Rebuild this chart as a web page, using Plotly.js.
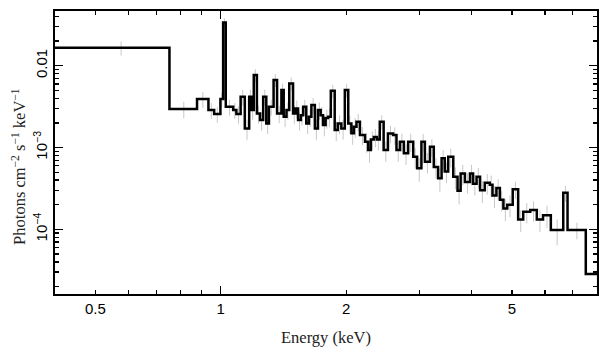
<!DOCTYPE html>
<html>
<head>
<meta charset="utf-8">
<script src="https://cdn.plot.ly/plotly-3.0.1.min.js"></script>
<style>html,body{margin:0;padding:0;background:#fff;}#chart{width:609px;height:357px;}</style>
</head>
<body>
<div id="chart"></div>
<script>
// Bin edges (keV) of the spectrum histogram
var binEdges = [0.38, 0.753, 0.877, 0.934, 0.964, 0.998, 1.013, 1.028, 1.071, 1.090, 1.116, 1.142, 1.170, 1.185, 1.200, 1.221, 1.242, 1.264, 1.286, 1.305, 1.339, 1.365, 1.398, 1.416, 1.438, 1.460, 1.491, 1.512, 1.533, 1.557, 1.577, 1.604, 1.628, 1.650, 1.682, 1.711, 1.737, 1.760, 1.785, 1.809, 1.837, 1.877, 1.909, 1.947, 1.985, 2.023, 2.058, 2.088, 2.117, 2.158, 2.219, 2.258, 2.292, 2.330, 2.370, 2.408, 2.460, 2.519, 2.591, 2.641, 2.693, 2.751, 2.817, 2.897, 2.960, 3.031, 3.090, 3.177, 3.246, 3.324, 3.389, 3.448, 3.515, 3.615, 3.701, 3.765, 3.855, 3.964, 4.033, 4.112, 4.192, 4.302, 4.423, 4.490, 4.588, 4.677, 4.769, 4.872, 5.021, 5.174, 5.321, 5.531, 5.736, 5.937, 6.198, 6.639, 6.798, 7.519, 8.5];
// Flux per bin (photons cm^-2 s^-1 keV^-1)
var flux = [0.0166, 0.00295, 0.00391, 0.00287, 0.00257, 0.00391, 0.0339, 0.00315, 0.00287, 0.00257,
  0.00418, 0.00171, 0.00418, 0.00287, 0.00769, 0.00261, 0.00217, 0.00418, 0.00197, 0.00315,
  0.00668, 0.00261, 0.00504, 0.00238, 0.00287, 0.00608, 0.00261, 0.00300, 0.00217, 0.00249, 0.00315,
  0.00197, 0.00238, 0.00331, 0.00171, 0.00287, 0.00249, 0.00188, 0.00230, 0.00238, 0.00495, 0.00164,
  0.00197, 0.00171, 0.00504, 0.00197, 0.00150, 0.00180, 0.00207, 0.00142, 0.00118, 0.00093, 0.00125, 0.00135, 0.00125,
  0.00207, 0.00093, 0.00149, 0.00142, 0.00093, 0.00118, 0.00085, 0.00118, 0.00077, 0.00056,
  0.00118, 0.00067, 0.00102, 0.00058, 0.00042, 0.00074, 0.00051, 0.00077, 0.00044, 0.000296,
  0.00048, 0.00038, 0.00048, 0.00036, 0.00044, 0.00030, 0.00037, 0.00035, 0.00026, 0.00032,
  0.00023, 0.00018, 0.00020, 0.00031, 0.000132, 0.000164, 0.000172, 0.000132, 0.000149, 0.000098,
  0.00028, 0.000098, 0.0000284];
// Relative 1-sigma errors per bin
var relErr = [0.20, 0.23, 0.22, 0.22, 0.22, 0.20, 0.12, 0.22, 0.22, 0.24,
  0.22, 0.28, 0.22, 0.24, 0.18, 0.25, 0.26, 0.22, 0.26, 0.22,
  0.18, 0.24, 0.20, 0.25, 0.24, 0.18, 0.26, 0.25, 0.26, 0.25, 0.22,
  0.26, 0.25, 0.22, 0.28, 0.24, 0.25, 0.27, 0.26, 0.25, 0.18, 0.27,
  0.26, 0.27, 0.18, 0.25, 0.28, 0.27, 0.24, 0.25, 0.27, 0.30, 0.26, 0.25, 0.26,
  0.20, 0.28, 0.24, 0.24, 0.28, 0.25, 0.28, 0.25, 0.28, 0.32,
  0.24, 0.28, 0.24, 0.28, 0.32, 0.26, 0.28, 0.26, 0.30, 0.32,
  0.28, 0.28, 0.28, 0.28, 0.28, 0.30, 0.28, 0.30, 0.30, 0.28,
  0.28, 0.30, 0.30, 0.24, 0.30, 0.28, 0.28, 0.30, 0.30, 0.35,
  0.22, 0.23, 0.35];
var xTickVals = [0.5, 1, 2, 5];
var xTickText = ["0.5", "1", "2", "5"];
var xMinorVals = [0.6, 0.7, 0.8, 0.9, 3, 4, 6, 7, 8];
var yTickVals = [0.01, 0.001, 0.0001];
var yTickText = ["0.01", "10<sup>\u22123</sup>", "10<sup>\u22124</sup>"];
var yMinorVals = [0.00002, 0.00003, 0.00004, 0.00005, 0.00006, 0.00007, 0.00008, 0.00009,
  0.0002, 0.0003, 0.0004, 0.0005, 0.0006, 0.0007, 0.0008, 0.0009,
  0.002, 0.003, 0.004, 0.005, 0.006, 0.007, 0.008, 0.009, 0.02, 0.03, 0.04];
var yTitle = 'Photons cm<sup>\u22122</sup> s<sup>\u22121</sup> keV<sup>\u22121</sup>';

var centers = [], errs = [];
for (var i = 0; i < flux.length; i++) {
  var lo = Math.max(binEdges[i], 0.40);
  centers.push((lo + binEdges[i + 1]) / 2);
  errs.push(flux[i] * relErr[i]);
}
var stepY = flux.concat([flux[flux.length - 1]]);

var traces = [
  {x: centers, y: flux, type: 'scatter', mode: 'markers', marker: {size: 0.1, color: 'rgba(0,0,0,0)'},
   error_y: {type: 'data', array: errs, visible: true, color: '#c8c8c8', thickness: 1, width: 0},
   hoverinfo: 'skip', showlegend: false},
  {x: binEdges, y: stepY, type: 'scatter', mode: 'lines', line: {shape: 'hv', color: '#000', width: 2.5},
   showlegend: false},
  {x: [], y: [], xaxis: 'x2', yaxis: 'y', type: 'scatter', showlegend: false}
];

var xr = [Math.log10(0.4), Math.log10(8.0)];
var layout = {
  width: 609, height: 357,
  margin: {l: 55, r: 12, t: 11, b: 63},
  paper_bgcolor: '#fff', plot_bgcolor: '#fff',
  showlegend: false,
  xaxis: {
    type: 'log', range: xr, tickmode: 'array', tickvals: xTickVals, ticktext: xTickText,
    ticks: 'inside', ticklen: 4, tickwidth: 1.3, tickcolor: '#000',
    showline: true, linecolor: '#000', linewidth: 1.6, mirror: 'ticks',
    showgrid: false, zeroline: false,
    tickfont: {family: 'Liberation Sans, Arial, sans-serif', size: 15, color: '#000'},
    minor: {tickmode: 'array', tickvals: xMinorVals, ticks: 'inside', ticklen: 4, tickwidth: 1.3, tickcolor: '#000', showgrid: false},
    title: {text: 'Energy (keV)', standoff: 16, font: {family: 'Liberation Serif, Times New Roman, serif', size: 16.5, color: '#222'}}
  },
  xaxis2: {
    type: 'log', range: xr, overlaying: 'x', side: 'bottom', anchor: 'y',
    tickmode: 'array', tickvals: [1], ticks: 'inside', ticklen: 8, tickwidth: 1.3, tickcolor: '#000',
    showticklabels: false, showline: false, mirror: 'ticks', showgrid: false, zeroline: false
  },
  yaxis: {
    type: 'log', range: [Math.log10(1.62e-5), Math.log10(0.0467)],
    tickmode: 'array', tickvals: yTickVals, ticktext: yTickText, tickangle: -90,
    ticks: 'inside', ticklen: 8, tickwidth: 1.3, tickcolor: '#000',
    showline: true, linecolor: '#000', linewidth: 1.6, mirror: 'ticks',
    showgrid: false, zeroline: false,
    tickfont: {family: 'Liberation Sans, Arial, sans-serif', size: 15, color: '#000'},
    minor: {tickmode: 'array', tickvals: yMinorVals, ticks: 'inside', ticklen: 4, tickwidth: 1.3, tickcolor: '#000', showgrid: false}
  },
  annotations: [{
    text: yTitle, xref: 'paper', yref: 'paper', x: -0.066, y: 0.45,
    xanchor: 'center', yanchor: 'middle', textangle: -90, showarrow: false,
    font: {family: 'Liberation Serif, Times New Roman, serif', size: 16.5, color: '#222'}
  }]
};
Plotly.newPlot('chart', traces, layout, {displayModeBar: false, staticPlot: true});
</script>
</body>
</html>
